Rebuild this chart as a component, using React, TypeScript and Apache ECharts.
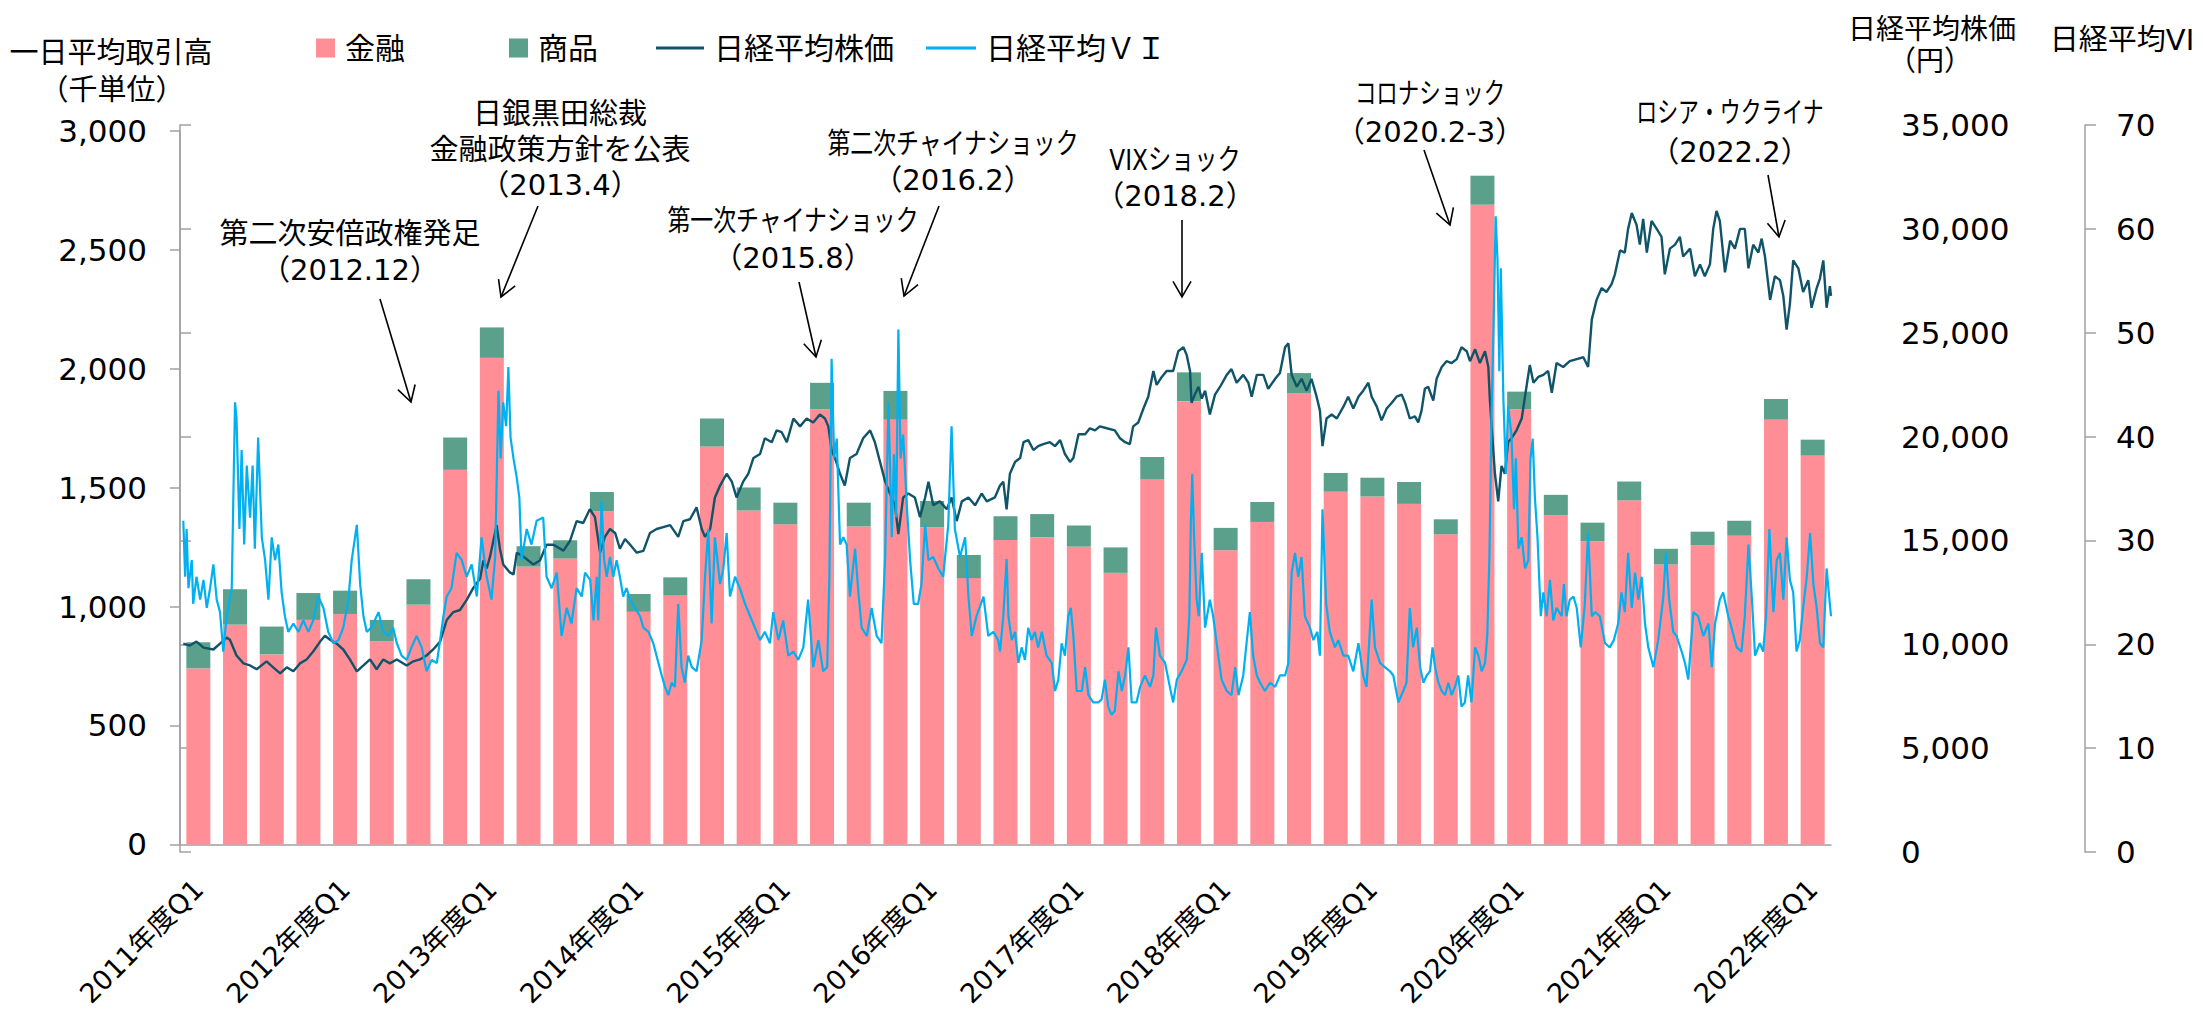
import React, { useEffect, useRef } from 'react';
import * as echarts from 'echarts';

const FONT = '"DejaVu Sans", "Noto Sans CJK JP", sans-serif';

const fiscalYears = [2011, 2012, 2013, 2014, 2015, 2016, 2017, 2018, 2019, 2020, 2021, 2022];
const quarterNames = ['Q1', 'Q2', 'Q3', 'Q4'];
const categories: string[] = [];
fiscalYears.forEach((y) => quarterNames.forEach((q) => categories.push(`${y}年度${q}`)));
categories.splice(45);

// 金融 (thousand contracts / day)
const kinyu = [740, 924, 799, 944, 969, 854, 1008, 1575, 2046, 1168, 1202, 1400, 978, 1046, 1673, 1404, 1346, 1830, 1337, 1786, 1333, 1120, 1280, 1291, 1252, 1142, 1535, 1864, 1237, 1356, 1897, 1483, 1463, 1432, 1304, 2690, 1830, 1384, 1275, 1447, 1177, 1258, 1298, 1786, 1635];
// 商品
const shohin = [110, 149, 117, 113, 98, 90, 107, 136, 128, 86, 77, 82, 75, 77, 118, 97, 91, 111, 100, 121, 111, 97, 100, 98, 89, 107, 94, 121, 94, 84, 85, 79, 79, 92, 63, 122, 74, 86, 78, 79, 66, 57, 63, 87, 67];

// 日経平均株価: [position in quarters from FY2011 Q1 start, yen]
const nikkei: [number, number][] = [
  [0.09,10030],[0.27,9940],[0.45,10130],[0.64,9840],[0.91,9750],[1.09,10030],[1.27,10320],[1.36,10220],[1.54,9460],[1.73,9080],[1.91,8980],[2.09,8800],[2.36,9180],[2.54,8890],[2.73,8600],[2.91,8890],[3.09,8700],[3.27,9080],[3.45,9270],[3.63,9650],[3.82,10130],[3.95,10410],[4.09,10220],[4.27,10030],[4.45,9750],[4.63,9270],[4.82,8700],[5.00,8980],[5.18,9270],[5.36,8800],[5.54,9270],[5.72,9080],[5.91,9270],[6.18,8980],[6.36,9180],[6.54,9270],[6.72,9460],[6.90,9750],[7.09,10130],[7.27,11170],[7.45,11550],[7.63,11650],[7.81,12130],[7.99,12700],[8.18,13170],[8.27,14030],[8.36,13650],[8.45,14220],[8.63,15740],[8.72,14600],[8.81,13840],[8.99,13460],[9.09,13360],[9.18,14410],[9.36,14220],[9.63,13840],[9.81,14030],[9.99,14790],[10.18,14790],[10.45,14510],[10.63,14980],[10.81,15930],[10.99,15840],[11.17,16500],
  [11.31,16120],[11.45,14410],[11.58,15170],[11.72,15550],[11.86,15360],[11.99,14600],[12.13,15070],[12.27,14790],[12.45,14410],[12.63,14500],[12.81,15360],[12.99,15550],[13.17,15640],[13.36,15740],[13.58,15170],[13.72,15930],[13.90,16020],[14.08,16590],[14.22,15550],[14.31,15170],[14.45,15550],[14.58,17070],[14.72,17640],[14.90,18210],[15.04,17830],[15.17,17070],[15.35,17830],[15.49,18210],[15.63,18970],[15.81,19160],[15.94,19920],[16.13,19730],[16.26,20300],[16.40,20210],[16.54,19730],[16.72,20870],[16.90,20490],[17.08,20870],[17.26,20680],[17.44,21060],[17.58,20870],[17.67,20490],[17.76,19350],[17.85,18970],[17.99,18210],[18.12,17640],[18.26,18970],[18.44,19160],[18.62,19920],[18.81,20300],[18.94,19730],[19.08,18780],[19.22,17830],[19.35,17260],[19.49,16690],[19.58,15300],[19.71,17070],[19.85,17260],[20.03,17070],[20.17,16120],[20.31,17070],[20.40,17830],[20.53,16690],[20.71,16880],[20.90,16500],[21.03,17070],[21.17,15930],[21.31,16880],[21.49,17070],[21.67,16690],[21.85,17260],[21.99,16880],[22.21,17070],
  [22.35,17640],[22.44,17830],[22.53,16500],[22.62,18210],[22.76,18780],[22.90,18970],[22.99,19730],[23.12,19830],[23.26,19350],[23.39,19540],[23.53,19640],[23.71,19730],[23.85,19540],[23.99,19830],[24.12,19160],[24.26,18780],[24.35,18970],[24.49,20110],[24.67,20110],[24.80,20400],[24.94,20300],[25.07,20490],[25.26,20400],[25.48,20300],[25.62,19920],[25.76,19730],[25.89,19640],[25.98,20490],[26.12,20680],[26.26,21350],[26.39,21920],[26.53,23160],[26.62,22490],[26.76,22870],[26.89,23160],[27.07,23160],[27.21,24110],[27.35,24300],[27.44,23920],[27.53,23160],[27.57,21630],[27.66,22020],[27.76,22400],[27.85,21830],[27.94,22210],[28.07,21060],[28.21,22020],[28.35,22400],[28.53,22970],[28.66,23250],[28.80,22590],[28.98,22970],[29.12,22590],[29.21,21920],[29.35,22970],[29.53,22970],[29.66,22300],[29.85,22780],[29.98,23060],[30.12,24300],[30.21,24490],[30.30,22970],[30.44,22400],[30.57,22780],[30.71,22210],[30.84,22780],[30.98,21920],[31.07,21250],[31.14,19540],[31.25,20870],[31.39,21060],[31.53,20870],[31.71,21440],[31.84,21920],[31.98,21350],[32.12,21920],[32.25,22210],[32.39,22590],[32.48,21920],[32.62,21440],[32.75,20780],[32.89,21350],[33.03,21630],[33.16,21920],[33.30,22020],[33.39,21630],
  [33.52,20870],[33.66,20970],[33.75,20680],[33.84,21250],[33.93,22300],[34.02,22400],[34.16,21730],[34.25,22780],[34.39,23350],[34.52,23630],[34.66,23540],[34.80,23730],[34.93,24300],[35.07,24110],[35.16,23630],[35.30,24200],[35.43,23540],[35.57,24110],[35.66,23350],[35.70,21830],[35.75,20490],[35.84,18210],[35.93,16880],[36.02,18590],[36.11,18210],[36.20,19730],[36.29,19920],[36.43,20300],[36.57,20870],[36.70,22400],[36.79,23440],[36.89,22590],[37.02,22870],[37.16,22970],[37.29,23160],[37.39,22110],[37.52,23540],[37.70,23350],[37.88,23630],[38.07,23730],[38.25,23820],[38.38,23350],[38.48,25630],[38.61,26580],[38.75,27150],[38.88,26960],[39.02,27340],[39.11,27810],[39.25,28960],[39.38,28860],[39.47,30000],[39.57,30760],[39.70,30190],[39.79,29240],[39.88,30480],[39.98,28860],[40.11,30380],[40.25,30000],[40.38,29620],[40.47,27810],[40.61,29050],[40.75,29240],[40.88,29620],[40.97,28670],[41.16,29050],[41.29,27720],[41.43,28290],[41.56,27720],[41.70,28290],[41.79,30000],[41.88,30860],[41.97,30380],[42.11,27910],[42.25,29430],[42.38,29050],[42.52,30000],[42.65,30000],[42.75,28100],[42.88,29240],[43.02,28860],[43.11,29530],[43.20,28670],[43.34,26580],[43.47,27720],[43.61,27530],[43.70,26770],[43.79,25150],[43.88,26390],[43.97,28480],[44.11,28100],[44.24,26960],[44.38,27530],[44.47,26200],[44.61,27150],[44.70,27620],[44.79,28480],[44.88,26200],[44.97,27240],[45.00,26770],
];

// 日経平均VI: [position in quarters, index]
const nikkeiVI: [number, number][] = [
  [0.09,31.9],[0.14,26.5],[0.18,31.1],[0.23,25.4],[0.32,28.1],[0.36,23.9],[0.45,26.5],[0.55,24.3],[0.64,26.2],[0.73,23.5],[0.82,25.4],[0.91,27.7],[1.00,24.3],[1.09,23.1],[1.18,19.3],[1.27,22.7],[1.41,25.4],[1.50,43.3],[1.54,41.8],[1.62,31.1],[1.68,38.7],[1.75,29.6],[1.82,37.2],[1.91,32.2],[1.98,37.2],[2.04,29.2],[2.13,39.9],[2.23,30.3],[2.32,28.1],[2.41,24.3],[2.50,30.3],[2.59,28.1],[2.68,29.6],[2.77,25.0],[2.86,22.7],[2.95,21.2],[3.09,22.0],[3.23,21.2],[3.36,22.3],[3.50,21.2],[3.63,22.3],[3.77,24.6],[3.91,23.5],[4.04,21.2],[4.18,20.1],[4.32,20.4],[4.45,21.6],[4.59,24.3],[4.68,28.1],[4.82,31.5],[4.91,25.8],[5.00,22.7],[5.09,21.2],[5.22,21.6],[5.41,23.1],[5.54,21.2],[5.68,20.8],[5.81,21.6],[5.91,20.1],[6.04,18.9],[6.18,18.5],[6.31,19.7],[6.45,20.8],[6.59,19.7],[6.72,17.4],[6.86,18.5],[7.00,18.2],[7.09,20.4],[7.18,22.7],[7.27,24.6],[7.40,25.4],[7.54,28.8],[7.68,28.1],[7.81,26.5],[7.95,27.7],[8.09,24.6],[8.22,30.3],[8.36,26.5],[8.49,24.3],[8.59,28.4],[8.68,44.4],[8.74,37.9],[8.81,43.3],[8.89,41.0],[8.95,46.7],[9.01,39.9],[9.09,37.9],[9.18,36.0],[9.25,34.1],[9.31,28.1],[9.45,31.1],[9.58,29.6],[9.72,31.9],[9.90,32.2],[9.99,26.5],[10.13,25.4],[10.27,26.9],[10.40,20.8],[10.54,23.5],[10.67,22.0],[10.81,25.4],[10.95,24.6],[11.04,26.9],
  [11.18,26.2],[11.27,22.3],[11.36,26.5],[11.40,22.3],[11.49,33.8],[11.56,28.1],[11.63,26.5],[11.72,28.4],[11.81,26.5],[11.90,28.1],[11.99,26.5],[12.08,24.6],[12.17,25.4],[12.27,24.3],[12.40,23.5],[12.54,22.7],[12.63,21.6],[12.77,21.2],[12.90,20.1],[13.04,18.2],[13.13,17.0],[13.22,15.9],[13.31,15.1],[13.40,16.3],[13.49,15.9],[13.58,23.9],[13.67,17.8],[13.76,16.3],[13.85,18.9],[13.95,17.8],[14.08,17.4],[14.22,20.4],[14.31,26.5],[14.40,31.1],[14.49,22.0],[14.58,30.3],[14.72,25.8],[14.81,27.3],[14.90,30.7],[14.99,24.6],[15.13,26.5],[15.26,25.4],[15.40,23.9],[15.54,22.7],[15.67,21.6],[15.81,20.4],[15.94,21.2],[16.08,20.1],[16.17,23.1],[16.31,20.4],[16.44,22.3],[16.58,18.9],[16.72,19.3],[16.85,18.5],[16.99,19.7],[17.12,24.3],[17.26,17.8],[17.40,20.4],[17.53,17.4],[17.64,17.8],[17.70,26.5],[17.76,47.5],[17.83,37.9],[17.90,39.8],[17.99,29.6],[18.08,30.3],[18.17,29.6],[18.26,24.6],[18.40,29.2],[18.49,25.0],[18.58,21.6],[18.72,20.8],[18.85,23.5],[18.99,20.8],[19.12,20.1],[19.22,28.4],[19.31,43.3],[19.40,30.3],[19.46,38.3],[19.52,32.2],[19.58,50.3],[19.64,37.9],[19.71,40.2],[19.81,33.4],[19.90,28.1],[20.00,23.9],[20.12,23.9],[20.21,25.8],[20.31,31.5],[20.40,28.1],[20.53,28.4],[20.67,27.3],[20.80,26.5],[20.94,31.5],[21.03,41.0],[21.12,31.1],[21.26,28.4],[21.40,30.3],[21.49,24.6],[21.58,20.8],[21.71,22.7],[21.90,24.6],[22.03,20.8],[22.17,21.2],[22.30,20.4],
  [22.35,19.3],[22.44,22.7],[22.53,28.2],[22.58,22.7],[22.67,20.4],[22.76,21.2],[22.85,18.2],[22.94,19.7],[23.03,18.5],[23.12,21.6],[23.21,20.4],[23.30,21.2],[23.39,19.7],[23.49,21.2],[23.62,18.9],[23.76,18.2],[23.85,15.5],[23.94,16.6],[24.03,20.1],[24.12,18.9],[24.21,22.7],[24.28,23.5],[24.35,20.8],[24.44,15.5],[24.58,15.5],[24.67,17.8],[24.76,15.1],[24.89,14.4],[25.03,14.4],[25.12,14.7],[25.21,16.6],[25.30,14.0],[25.39,13.2],[25.48,13.6],[25.58,17.4],[25.67,15.5],[25.76,17.0],[25.85,19.7],[25.94,14.4],[26.07,14.4],[26.17,15.9],[26.30,17.0],[26.44,15.9],[26.53,17.0],[26.60,21.6],[26.71,18.9],[26.85,18.2],[26.98,15.9],[27.07,14.4],[27.17,16.6],[27.30,17.4],[27.44,18.5],[27.51,22.7],[27.55,31.5],[27.59,36.4],[27.64,30.3],[27.71,24.3],[27.77,22.7],[27.85,28.8],[27.94,21.6],[28.07,24.3],[28.16,22.7],[28.30,18.9],[28.39,16.6],[28.53,15.5],[28.66,15.1],[28.76,17.8],[28.85,15.1],[28.98,17.0],[29.07,20.1],[29.16,23.1],[29.25,18.9],[29.35,17.0],[29.44,16.3],[29.57,15.5],[29.71,16.3],[29.85,15.9],[29.98,17.0],[30.12,17.0],[30.21,18.2],[30.30,26.9],[30.39,28.8],[30.48,26.5],[30.57,28.4],[30.66,22.7],[30.80,21.6],[30.89,20.4],[31.00,21.2],[31.07,18.9],[31.14,33.0],[31.24,23.9],[31.34,21.2],[31.48,19.7],[31.57,20.4],[31.71,18.9],[31.84,18.9],[31.98,17.4],[32.12,20.1],[32.25,17.0],[32.34,15.9],[32.48,24.3],[32.57,19.7],[32.71,18.2],[32.84,17.8],[32.98,17.4],[33.07,17.0],[33.21,14.4],[33.34,15.5],[33.43,16.3],
  [33.52,23.5],[33.61,19.7],[33.71,21.6],[33.80,17.8],[33.89,16.3],[33.98,17.0],[34.07,17.4],[34.14,19.7],[34.21,17.8],[34.30,16.3],[34.39,15.5],[34.48,15.1],[34.57,16.3],[34.66,15.1],[34.75,15.9],[34.84,17.0],[34.93,14.0],[35.02,14.4],[35.11,17.0],[35.20,14.4],[35.30,19.7],[35.39,18.9],[35.48,17.4],[35.57,18.2],[35.63,20.8],[35.69,28.4],[35.75,42.5],[35.80,50.1],[35.86,61.2],[35.91,57.0],[35.96,46.3],[36.00,56.2],[36.07,43.7],[36.14,36.4],[36.20,42.9],[36.29,40.2],[36.36,33.0],[36.41,37.9],[36.48,29.2],[36.57,30.3],[36.66,27.3],[36.75,28.1],[36.81,37.9],[36.87,39.8],[36.93,34.1],[37.00,30.3],[37.09,22.7],[37.16,25.0],[37.25,22.7],[37.34,26.2],[37.43,22.3],[37.52,23.5],[37.66,22.7],[37.72,25.8],[37.79,22.7],[37.88,24.3],[37.98,24.6],[38.07,23.5],[38.18,19.7],[38.29,23.9],[38.38,30.7],[38.48,22.7],[38.57,23.1],[38.70,22.7],[38.84,20.1],[38.97,19.7],[39.08,20.4],[39.20,22.0],[39.29,25.0],[39.38,23.1],[39.47,28.8],[39.57,23.5],[39.66,26.9],[39.75,24.3],[39.84,26.5],[39.93,22.0],[40.02,19.7],[40.16,17.8],[40.29,20.4],[40.43,24.6],[40.50,28.8],[40.59,24.3],[40.70,21.2],[40.79,20.8],[40.93,19.3],[41.02,18.2],[41.11,16.6],[41.25,23.1],[41.38,22.7],[41.52,20.8],[41.66,22.0],[41.75,17.8],[41.84,22.0],[41.97,24.3],[42.06,25.0],[42.20,22.7],[42.29,21.6],[42.43,19.7],[42.56,19.3],[42.65,22.7],[42.75,29.6],[42.84,24.6],[42.93,18.9],[43.06,20.1],[43.15,19.3],[43.23,22.7],[43.32,31.1],[43.43,23.1],[43.52,28.1],[43.61,28.8],[43.70,24.3],[43.79,30.3],[43.88,26.2],[43.97,25.0],[44.06,19.3],[44.15,20.4],[44.24,23.5],[44.34,26.5],[44.43,30.7],[44.52,25.8],[44.61,23.5],[44.70,20.1],[44.79,19.7],[44.88,27.3],[44.95,24.6],[45.00,22.7],
];

// annotation texts; sx = horizontal squeeze of each line (reference uses a proportional kana font)
const annotations = [
  { lines: ['第二次安倍政権発足', '（2012.12）'], sx: [1, 1], x: 350, ys: [234, 270], from: [380, 299], to: [411, 402] },
  { lines: ['日銀黒田総裁', '金融政策方針を公表', '（2013.4）'], sx: [1, 1, 1], x: 560, ys: [114, 150, 185], from: [538, 206], to: [501, 297] },
  { lines: ['第一次チャイナショック', '（2015.8）'], sx: [0.79, 1], x: 793, ys: [221, 258], from: [799, 282], to: [816, 357] },
  { lines: ['第二次チャイナショック', '（2016.2）'], sx: [0.79, 1], x: 953, ys: [144, 180], from: [939, 206], to: [904, 296] },
  { lines: ['VIXショック', '（2018.2）'], sx: [0.8, 1], x: 1175, ys: [160, 196], from: [1182, 220], to: [1182, 297] },
  { lines: ['コロナショック', '（2020.2-3）'], sx: [0.74, 1], x: 1430, ys: [94, 132], from: [1424, 150], to: [1450, 225] },
  { lines: ['ロシア・ウクライナ', '（2022.2）'], sx: [0.72, 1], x: 1730, ys: [113, 152], from: [1768, 175], to: [1779, 237] },
];

const COLOR_KINYU = '#FF8E96';
const COLOR_SHOHIN = '#5BA08B';
const COLOR_NIKKEI = '#0F5468';
const COLOR_VI = '#00B0F0';
const AXIS_COLOR = '#A0A0A0';

function txt(text: string, x: number, y: number, size: number, scaleX = 1) {
  return {
    type: 'text',
    x,
    y,
    scaleX,
    silent: true,
    style: {
      text,
      fontSize: size,
      fontFamily: FONT,
      fill: '#000',
      align: 'center',
      verticalAlign: 'middle',
      textAlign: 'center',
      textVerticalAlign: 'middle',
    },
  };
}

function arrow(from: number[], to: number[]) {
  const a = Math.atan2(to[1] - from[1], to[0] - from[0]);
  const len = 18;
  const ang = Math.PI / 6;
  const p1 = [to[0] - len * Math.cos(a - ang), to[1] - len * Math.sin(a - ang)];
  const p2 = [to[0] - len * Math.cos(a + ang), to[1] - len * Math.sin(a + ang)];
  return [
    { type: 'line', silent: true, shape: { x1: from[0], y1: from[1], x2: to[0], y2: to[1] }, style: { stroke: '#000', lineWidth: 1.6 } },
    { type: 'polyline', silent: true, shape: { points: [p1, to, p2] }, style: { stroke: '#000', fill: null, lineWidth: 1.6 } },
  ];
}

const fmt = (v: number) => v.toLocaleString('en-US');

export default function App() {
  const ref = useRef<HTMLDivElement>(null);
  useEffect(() => {
    document.body.style.margin = '0';
    document.body.style.overflow = 'hidden';
    if (!ref.current) return;
    const chart = echarts.init(ref.current, null, { renderer: 'svg' });

    const graphics: any[] = [];
    graphics.push(txt('一日平均取引高', 111, 53, 29));
    graphics.push(txt('（千単位）', 112, 90, 29));
    graphics.push(txt('日経平均株価', 1932, 29, 28));
    graphics.push(txt('（円）', 1930, 61, 28));
    graphics.push(txt('日経平均VI', 2122, 40, 29));
    annotations.forEach((an) => {
      an.lines.forEach((l, i) => graphics.push(txt(l, an.x, an.ys[i], 29, an.sx[i])));
      arrow(an.from, an.to).forEach((g) => graphics.push(g));
    });

    const legendBase = {
      top: 28,
      textStyle: { fontSize: 30, fontFamily: FONT, color: '#000', padding: [0, 0, 0, 5] },
      selectedMode: false,
    };

    const option: any = {
      animation: false,
      backgroundColor: '#fff',
      textStyle: { fontFamily: FONT },
      legend: [
        { ...legendBase, left: 311, data: [{ name: '金融', icon: 'rect' }], itemWidth: 19, itemHeight: 19 },
        { ...legendBase, left: 504, data: [{ name: '商品', icon: 'rect' }], itemWidth: 19, itemHeight: 19 },
        { ...legendBase, left: 651, data: [{ name: '日経平均株価', icon: 'rect' }], itemWidth: 48, itemHeight: 3 },
        { ...legendBase, left: 921, data: [{ name: '日経平均ＶＩ', icon: 'rect' }], itemWidth: 50, itemHeight: 3 },
      ],
      grid: [
        { left: 180, top: 131, width: 1651, height: 717 },
        { left: 180, top: 125, width: 1651, height: 727 },
      ],
      xAxis: [
        {
          type: 'category',
          gridIndex: 0,
          data: categories,
          boundaryGap: true,
          axisLine: { lineStyle: { color: AXIS_COLOR, width: 1.5 } },
          axisTick: { interval: 3, length: 9, lineStyle: { color: AXIS_COLOR, width: 1.5 } },
          axisLabel: { interval: 3, rotate: 45, margin: 40, fontSize: 27, color: '#000', fontFamily: FONT },
        },
        { type: 'value', gridIndex: 1, min: 0, max: 45, show: false },
      ],
      yAxis: [
        {
          type: 'value',
          gridIndex: 0,
          position: 'left',
          min: 0,
          max: 3000,
          interval: 500,
          splitLine: { show: false },
          axisLine: { show: true, lineStyle: { color: AXIS_COLOR, width: 1.5 } },
          axisTick: { show: true, length: 10, lineStyle: { color: AXIS_COLOR, width: 1.5 } },
          axisLabel: { fontSize: 31, color: '#000', margin: 33, fontFamily: FONT, formatter: fmt },
        },
        {
          type: 'value',
          gridIndex: 1,
          position: 'right',
          offset: 38,
          min: 0,
          max: 35000,
          interval: 5000,
          splitLine: { show: false },
          axisLine: { show: true, lineStyle: { color: AXIS_COLOR, width: 1.5 } },
          axisTick: { show: true, length: 11, lineStyle: { color: AXIS_COLOR, width: 1.5 } },
          axisLabel: { fontSize: 31, color: '#000', margin: 32, fontFamily: FONT, formatter: fmt },
        },
        {
          type: 'value',
          gridIndex: 1,
          position: 'right',
          offset: 254,
          min: 0,
          max: 70,
          interval: 10,
          splitLine: { show: false },
          axisLine: { show: true, lineStyle: { color: AXIS_COLOR, width: 1.5 } },
          axisTick: { show: true, length: 11, lineStyle: { color: AXIS_COLOR, width: 1.5 } },
          axisLabel: { fontSize: 31, color: '#000', margin: 31, fontFamily: FONT },
        },
      ],
      series: [
        {
          name: '金融',
          type: 'bar',
          stack: 'vol',
          xAxisIndex: 0,
          yAxisIndex: 0,
          barWidth: 24,
          data: kinyu,
          itemStyle: { color: COLOR_KINYU },
        },
        {
          name: '商品',
          type: 'bar',
          stack: 'vol',
          xAxisIndex: 0,
          yAxisIndex: 0,
          barWidth: 24,
          data: shohin,
          itemStyle: { color: COLOR_SHOHIN },
        },
        {
          name: '日経平均株価',
          type: 'line',
          xAxisIndex: 1,
          yAxisIndex: 1,
          data: nikkei,
          symbol: 'none',
          color: COLOR_NIKKEI,
          lineStyle: { color: COLOR_NIKKEI, width: 2.4 },
        },
        {
          name: '日経平均ＶＩ',
          type: 'line',
          xAxisIndex: 1,
          yAxisIndex: 2,
          data: nikkeiVI,
          symbol: 'none',
          color: COLOR_VI,
          lineStyle: { color: COLOR_VI, width: 2.2 },
        },
      ],
      graphic: { elements: graphics },
    };
    chart.setOption(option);
    return () => chart.dispose();
  }, []);
  return <div ref={ref} style={{ position: 'fixed', left: 0, top: 0, width: 2206, height: 1010 }} />;
}
